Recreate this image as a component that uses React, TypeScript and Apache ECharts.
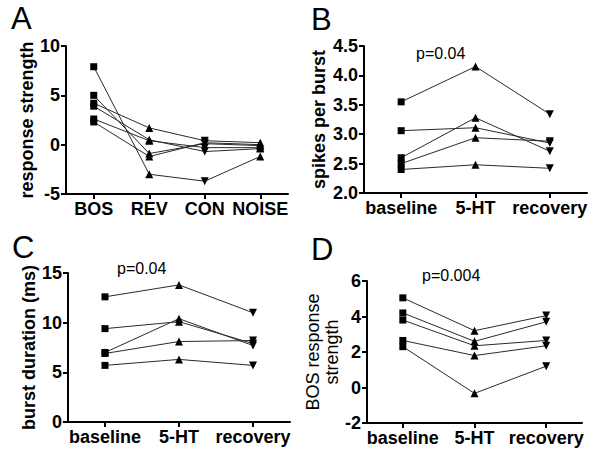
import React, { useEffect, useRef } from "react";
import * as echarts from "echarts";

// Panel A: response strength per stimulus
const catsA = ["BOS", "REV", "CON", "NOISE"];
const respA1 = [7.9, -3.0, -3.7, -1.2];
const respA2 = [5.0, -0.9, 0.1, -0.1];
const respA3 = [4.2, 1.7, 0.4, 0.2];
const respA4 = [3.9, 0.5, -0.7, -0.4];
const respA5 = [2.6, 0.4, -0.3, -0.3];
const respA6 = [2.3, -1.2, 0.2, 0.0];

// Panels B-D conditions
const catsBCD = ["baseline", "5-HT", "recovery"];

// Panel B: spikes per burst
const spkB1 = [3.55, 4.15, 3.34];
const spkB2 = [3.06, 3.11, 2.85];
const spkB3 = [2.60, 3.28, 2.71];
const spkB4 = [2.50, 2.94, 2.88];
const spkB5 = [2.40, 2.48, 2.42];

// Panel C: burst duration (ms)
const durC1 = [12.6, 13.8, 11.0];
const durC2 = [9.4, 10.1, 7.9];
const durC3 = [7.0, 10.4, 7.7];
const durC4 = [6.9, 8.1, 8.2];
const durC5 = [5.7, 6.3, 5.7];

// Panel D: BOS response strength
const bosD1 = [5.05, 3.2, 4.05];
const bosD2 = [4.2, 2.6, 3.7];
const bosD3 = [3.8, 2.35, 2.65];
const bosD4 = [2.65, 1.8, 2.35];
const bosD5 = [2.3, -0.33, 1.2];

const FONT = "'Liberation Sans', Arial, Helvetica, sans-serif";
const DOWN = "path://M0,0L10,0L5,9Z";
const symA = ["rect", "triangle", DOWN, "triangle"];
const symBCD = ["rect", "triangle", DOWN];
const sizeOf = (s: string) => (s === "rect" ? 7 : 8);

function buildSeries(rows: number[][], syms: string[], idx: number) {
  return rows.map((row) => ({
    type: "line",
    xAxisIndex: idx,
    yAxisIndex: idx,
    data: row.map((v, i) => ({ value: v, symbol: syms[i], symbolSize: sizeOf(syms[i]) })),
    lineStyle: { color: "#2a2a2a", width: 1 },
    itemStyle: { color: "#000" },
    showSymbol: true,
    z: 3,
  }));
}

export default function App() {
  const ref = useRef<HTMLDivElement>(null);
  useEffect(() => {
    if (!ref.current) return;
    const chart = echarts.init(ref.current, null, { renderer: "svg" });
    const grids = [
      { left: 66, top: 46, width: 222, height: 148 },
      { left: 364, top: 46, width: 223, height: 147 },
      { left: 68, top: 273, width: 222, height: 149 },
      { left: 367, top: 281, width: 215, height: 142 },
    ];
    const xCats = [catsA, catsBCD, catsBCD, catsBCD];
    const axisLine = { show: true, onZero: false, lineStyle: { color: "#000", width: 2 } };
    const xAxis = xCats.map((c, i) => ({
      type: "category",
      gridIndex: i,
      data: c,
      boundaryGap: true,
      axisLine,
      axisTick: { show: true, alignWithLabel: true, length: 5, lineStyle: { color: "#000", width: 2 } },
      axisLabel: { color: "#000", fontSize: 18, fontWeight: "bold", fontFamily: FONT, margin: 6, interval: 0 },
      splitLine: { show: false },
    }));
    const yDefs = [
      { min: -5, max: 10, interval: 5, name: "response strength", gap: 25, bold: true, fmt: (v: number) => String(v) },
      { min: 2, max: 4.5, interval: 0.5, name: "spikes per burst", gap: 36, bold: true, fmt: (v: number) => v.toFixed(1) },
      { min: 0, max: 15, interval: 5, name: "burst duration (ms)", gap: 27, bold: true, fmt: (v: number) => String(v) },
      { min: -2, max: 6, interval: 2, name: "BOS response\nstrength", gap: 25, bold: false, fmt: (v: number) => String(v) },
    ];
    const yAxis = yDefs.map((d, i) => ({
      type: "value",
      gridIndex: i,
      min: d.min,
      max: d.max,
      interval: d.interval,
      name: d.name,
      nameLocation: "middle",
      nameGap: d.gap,
      nameRotate: 90,
      nameTextStyle: {
        color: "#000",
        fontSize: 18,
        fontWeight: d.bold ? "bold" : "normal",
        fontFamily: FONT,
        lineHeight: 19,
      },
      axisLine,
      axisTick: { show: true, length: 5, lineStyle: { color: "#000", width: 2 } },
      axisLabel: { color: "#000", fontSize: 18, fontWeight: "bold", fontFamily: FONT, margin: 6, formatter: d.fmt },
      splitLine: { show: false },
    }));
    const series = [
      ...buildSeries([respA1, respA2, respA3, respA4, respA5, respA6], symA, 0),
      ...buildSeries([spkB1, spkB2, spkB3, spkB4, spkB5], symBCD, 1),
      ...buildSeries([durC1, durC2, durC3, durC4, durC5], symBCD, 2),
      ...buildSeries([bosD1, bosD2, bosD3, bosD4, bosD5], symBCD, 3),
    ];
    const letter = (t: string, x: number, y: number) => ({
      type: "text",
      x,
      y,
      style: { text: t, fill: "#000", font: `normal 31px ${FONT}` },
    });
    const pval = (t: string, x: number, y: number) => ({
      type: "text",
      x,
      y,
      style: { text: t, fill: "#000", font: `normal 16px ${FONT}`, verticalAlign: "middle" },
    });
    chart.setOption({
      animation: false,
      backgroundColor: "#fff",
      grid: grids,
      xAxis,
      yAxis,
      series,
      graphic: [
        letter("A", 11, 3),
        letter("B", 311, 4),
        letter("C", 12, 232),
        letter("D", 311, 234),
        pval("p=0.04", 416, 53),
        pval("p=0.04", 117, 268),
        pval("p=0.004", 422, 275),
      ],
    });
    return () => chart.dispose();
  }, []);
  return (
    <div
      ref={ref}
      style={{ position: "absolute", left: 0, top: 0, width: 600, height: 460, background: "#fff" }}
    />
  );
}
